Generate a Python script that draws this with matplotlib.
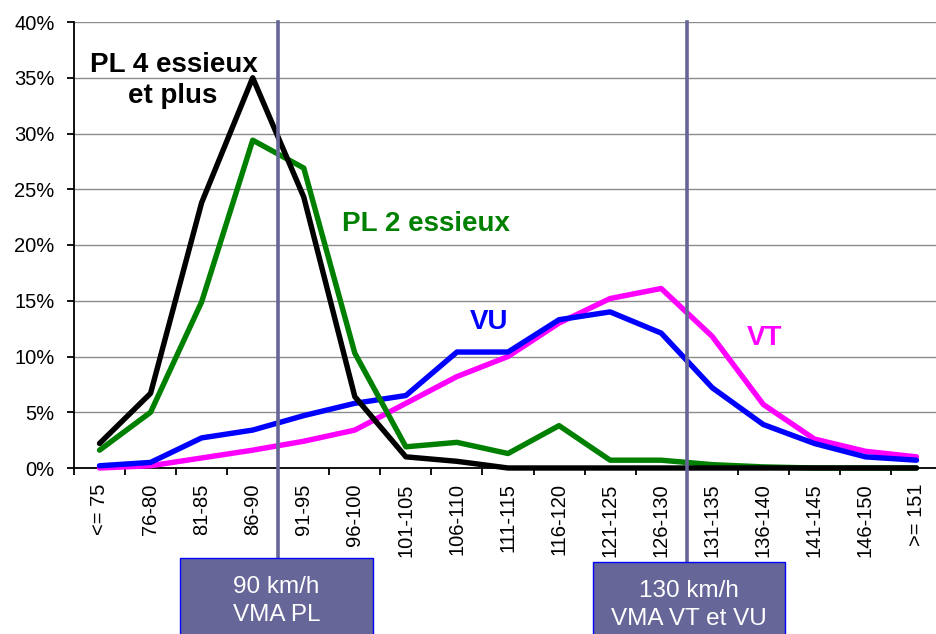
import matplotlib
matplotlib.use("Agg")
import matplotlib.pyplot as plt
from matplotlib.patches import Rectangle
import numpy as np

plt.rcParams['font.family'] = ['Liberation Sans', 'DejaVu Sans']

categories = ['<= 75', '76-80', '81-85', '86-90', '91-95', '96-100', '101-105',
              '106-110', '111-115', '116-120', '121-125', '126-130', '131-135',
              '136-140', '141-145', '146-150', '>= 151']

pl4 = [2.2, 6.7, 23.8, 35.0, 24.3, 6.4, 1.0, 0.6, 0.0, 0.0, 0.0, 0.0, 0.0, 0.0, 0.0, 0.0, 0.0]
pl2 = [1.6, 5.0, 14.9, 29.4, 26.9, 10.3, 1.9, 2.3, 1.3, 3.8, 0.7, 0.7, 0.3, 0.1, 0.0, 0.0, 0.0]
vu = [0.2, 0.5, 2.7, 3.4, 4.7, 5.8, 6.5, 10.4, 10.4, 13.3, 14.0, 12.1, 7.2, 3.9, 2.2, 1.0, 0.7]
vt = [0.0, 0.2, 0.9, 1.6, 2.4, 3.4, 5.8, 8.2, 10.0, 13.0, 15.2, 16.1, 11.8, 5.7, 2.6, 1.5, 1.0]

yticks = [0, 5, 10, 15, 20, 25, 30, 35, 40]

W, H = 936, 634
fig = plt.figure(figsize=(W / 100, H / 100), dpi=100)
fig.patch.set_facecolor('white')

ax_l, ax_r, ax_t, ax_b = 74, 942, 22, 468
ax = fig.add_axes([ax_l / W, (H - ax_b) / H, (ax_r - ax_l) / W, (ax_b - ax_t) / H])
ax.set_xlim(-0.5, len(categories) - 0.5)
ax.set_ylim(0, 40)

x = np.arange(len(categories))
lw = 3.9
ax.plot(x, vt, color='#FF00FF', lw=lw, solid_capstyle='round', solid_joinstyle='round', zorder=3, clip_on=False)
ax.plot(x, vu, color='#0000FF', lw=lw, solid_capstyle='round', solid_joinstyle='round', zorder=4, clip_on=False)
ax.plot(x, pl2, color='#008000', lw=lw, solid_capstyle='round', solid_joinstyle='round', zorder=5, clip_on=False)
ax.plot(x, pl4, color='#000000', lw=lw, solid_capstyle='round', solid_joinstyle='round', zorder=6, clip_on=False)

# axes styling
for s in ['top', 'right']:
    ax.spines[s].set_visible(False)
for s in ['left', 'bottom']:
    ax.spines[s].set_linewidth(1.3)
    ax.spines[s].set_color('black')

ax.set_yticks(yticks)
ax.set_yticklabels([f"{v}%" for v in yticks], fontsize=14.5)
ax.tick_params(axis='y', direction='out', length=5, width=1.3, pad=9)
ax.yaxis.grid(True, color='#8c8c8c', lw=1.0)
ax.set_axisbelow(True)

ax.set_xticks(x)
ax.set_xticklabels(categories, rotation=90, fontsize=14.5, va='top', ha='center')
ax.tick_params(axis='x', which='major', length=0, pad=11)
ax.set_xticks(np.arange(-0.5, len(categories), 1.0), minor=True)
ax.tick_params(axis='x', which='minor', direction='out', length=5, width=1.3)

# series labels
ax.text(1.46, 35.5, 'PL 4 essieux', fontsize=20, fontweight='bold', color='black', ha='center', va='baseline', zorder=10)
ax.text(1.44, 32.7, 'et plus', fontsize=20, fontweight='bold', color='black', ha='center', va='baseline', zorder=10)
ax.text(6.39, 21.3, 'PL 2 essieux', fontsize=20, fontweight='bold', color='#008000', ha='center', va='baseline', zorder=10)
ax.text(7.62, 12.5, 'VU', fontsize=20, fontweight='bold', color='#0000FF', ha='center', va='baseline', zorder=10)
ax.text(13.02, 11.0, 'VT', fontsize=20, fontweight='bold', color='#FF00FF', ha='center', va='baseline', zorder=10)

# speed limit markers and boxes (figure pixel coords)
def px(xp, yp):
    return xp / W, 1 - yp / H

markers = [(3.5, 558, 180, 373, '90 km/h\nVMA PL'),
           (11.5, 562, 593, 785, '130 km/h\nVMA VT et VU')]
for xi, ytop, bx0, bx1, label in markers:
    xpix = ax_l + (xi + 0.5) * (ax_r - ax_l) / len(categories)
    fig.add_artist(plt.Line2D([xpix / W, xpix / W], [1 - ax_t / H, 1 - ytop / H],
                              color='#666699', lw=2.6, zorder=20))
    x0, y0 = px(bx0, H + 10)
    x1, y1 = px(bx1, ytop)
    fig.add_artist(Rectangle((x0, y0), x1 - x0, y1 - y0, facecolor='#666699',
                             edgecolor='#0000FF', lw=1.0, zorder=21))
    l1, l2 = label.split('\n')
    cx = (bx0 + bx1) / 2
    fig.text(cx / W, 1 - (ytop + 29) / H, l1, color='white', fontsize=17.5, ha='center', va='center', zorder=22)
    fig.text(cx / W, 1 - (ytop + 57) / H, l2, color='white', fontsize=17.5, ha='center', va='center', zorder=22)

fig.savefig('out.png', dpi=100)
